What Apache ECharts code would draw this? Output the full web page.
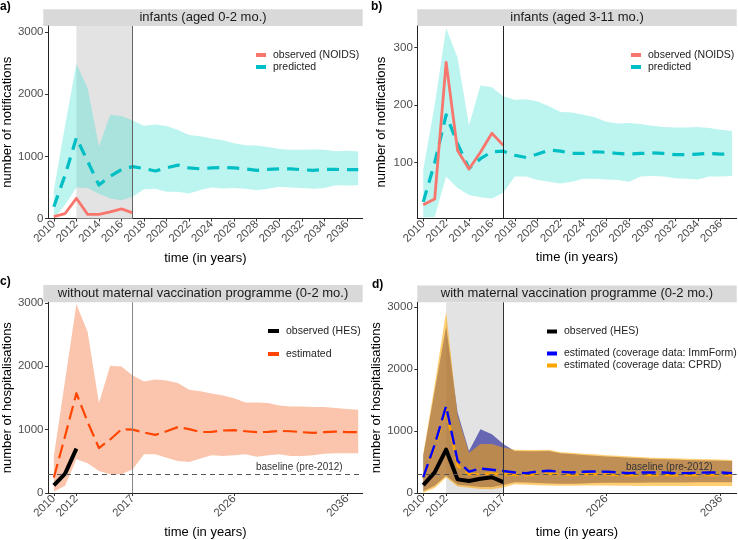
<!DOCTYPE html>
<html><head><meta charset="utf-8">
<script src="https://cdn.jsdelivr.net/npm/echarts@6/dist/echarts.min.js"></script>
<style>html,body{margin:0;padding:0;background:#fff}#c{width:738px;height:540px}</style>
</head><body><div id="c"></div>
<script>
// ---------- data ----------
const years = [2010,2011,2012,2013,2014,2015,2016,2017,2018,2019,2020,2021,2022,2023,2024,2025,2026,2027,2028,2029,2030,2031,2032,2033,2034,2035,2036,2037];
const obsYears = [2010,2011,2012,2013,2014,2015,2016,2017];
const hesYearsC = [2010,2011,2012];

const xTicksTop = [2010,2012,2014,2016,2018,2020,2022,2024,2026,2028,2030,2032,2034,2036];
const xTicksBottom = [2010,2012,2017,2026,2036];
const yTicksA = [0,1000,2000,3000];
const yTicksB = [100,200,300];
const yTicksC = [0,1000,2000,3000];
const yTicksD = [0,1000,2000,3000];

const shadeStart = 2012, shadeEnd = 2017, cutoffYear = 2017, baselineValue = 300;

// panel a: infants 0-2 months, notifications
const aPredicted = [190,700,1300,920,540,680,790,835,805,765,815,860,815,800,815,820,815,800,775,790,800,800,786,775,790,790,786,786];
const aUpper     = [455,1500,2490,2100,1160,1670,1650,1580,1495,1515,1490,1425,1345,1325,1290,1260,1210,1180,1176,1150,1120,1107,1107,1110,1107,1085,1090,1080];
const aLower     = [0,220,500,490,400,322,295,349,470,478,430,430,403,457,500,484,490,480,455,480,510,500,490,480,490,535,530,535];
const aObserved  = [30,80,325,66,66,107,155,91];

// panel b: infants 3-11 months, notifications
const bPredicted = [32,100,183,133,90,107,119,120,113,109,115,122,120,116,116,119,118,116,115,116,117,116,114,114,115,116,115,115];
const bUpper     = [88,200,333,282,165,234,231,215,209,210,206,198,188,187,183,179,171,168,169,167,164,162,161,161,162,160,157,155];
const bLower     = [5,6,76,56,44,40,38,48,76,76,70,67,64,67,72,72,71,70,67,76,77,76,73,72,71,76,76,77];
const bObserved  = [27,37,274,121,89,118,151,130];

// panel c: without maternal vaccination, hospitalisations
const cEstimated = [245,900,1575,1120,710,845,1005,1000,955,918,975,1040,1008,962,965,986,991,975,960,965,980,975,960,950,960,970,960,960];
const cUpper     = [584,1780,2980,2540,1420,2010,1998,1855,1758,1790,1774,1738,1628,1605,1570,1539,1497,1429,1429,1419,1382,1367,1367,1356,1356,1340,1325,1315];
const cLower     = [20,114,532,470,349,297,297,376,610,610,558,506,490,543,595,584,595,610,574,595,610,584,584,595,620,626,626,626];
const cObserved  = [120,305,700];

// panel d: with maternal vaccination, hospitalisations
const dImmForm      = [252,780,1403,520,345,395,375,355,332,321,348,359,343,332,343,348,343,332,321,332,332,332,321,321,327,332,332,321];
const dImmFormUpper = [600,1650,2690,1300,680,1028,950,790,680,675,675,680,640,630,615,600,590,580,570,560,550,545,540,535,530,525,520,515];
const dImmFormLower = [30,118,280,135,118,95,95,128,175,170,160,155,150,150,155,160,165,165,165,165,170,170,170,170,175,175,175,175];
const dCPRD         = [240,740,1350,440,300,310,310,305,295,285,305,315,300,290,300,305,300,290,285,290,290,290,285,285,290,290,290,285];
const dCPRDUpper    = [627,1750,2930,1250,650,790,790,735,700,695,695,700,660,650,635,625,610,600,590,580,570,565,560,555,550,545,540,535];
const dCPRDLower    = [5,80,250,105,85,65,60,90,140,135,125,120,118,118,120,120,120,118,118,115,115,115,115,115,115,115,115,115];
const dObserved     = [128,332,700,220,195,230,255,175];

// ---------- styles ----------
const FONT = 'Liberation Sans, Arial, Helvetica, sans-serif';
const RED = '#F8766D', TEAL = '#00BFC4';
const TEAL_BAND = 'rgba(64,224,208,0.35)';
const SALMON_BAND = 'rgba(245,110,50,0.4)';
const ORANGERED = '#FF4500';
const BLUE = '#0000FF', ORANGE = '#FFA500';
const BLUE_BAND = 'rgba(0,0,139,0.55)', ORANGE_BAND = 'rgba(255,165,0,0.55)';
const SHADE = '#e3e3e3';

const grids = [
  {left: 43.3, top: 26, width: 319.4, height: 192.5},
  {left: 417.3, top: 26, width: 319.4, height: 192.3},
  {left: 43.3, top: 302.3, width: 319.4, height: 191.7},
  {left: 417.3, top: 302.3, width: 319.4, height: 191.7}
];

function pairs(xs, ys) { return xs.map((x, i) => [x, ys[i]]); }
const plain = v => String(v);

function xAxis(gi, ticks) {
  return {
    type: 'value', gridIndex: gi, min: 2009.48, max: 2037.4,
    name: 'time (in years)', nameLocation: 'middle', nameGap: 33,
    nameTextStyle: {fontSize: 13, color: '#000', fontFamily: FONT},
    axisLine: {show: true, onZero: false, lineStyle: {color: '#222', width: 1}},
    axisTick: {show: true, length: 3, lineStyle: {color: '#333'}, customValues: ticks},
    axisLabel: {rotate: 45, margin: 4, fontSize: 11.5, color: '#4d4d4d', fontFamily: FONT, customValues: ticks, formatter: plain},
    splitLine: {show: false}
  };
}
function yAxis(gi, min, max, ticks, name, gap) {
  return {
    type: 'value', gridIndex: gi, min: min, max: max,
    name: name, nameLocation: 'middle', nameGap: gap,
    nameTextStyle: {fontSize: 13, color: '#000', fontFamily: FONT},
    axisLine: {show: true, onZero: false, lineStyle: {color: '#222', width: 1}},
    axisTick: {show: true, length: 3, lineStyle: {color: '#333'}, customValues: ticks},
    axisLabel: {margin: 4.5, fontSize: 11.5, color: '#4d4d4d', fontFamily: FONT, customValues: ticks, formatter: plain},
    splitLine: {show: false}
  };
}

function lineSeries(gi, name, xs, ys, color, width, dash, z) {
  return {
    type: 'line', name: name, xAxisIndex: gi, yAxisIndex: gi,
    data: pairs(xs, ys), symbol: 'none', showSymbol: false, silent: true, z: z,
    lineStyle: {color: color, width: width, type: dash || 'solid', cap: 'butt', join: 'round'},
    itemStyle: {color: color}
  };
}

function bandSeries(gi, name, lo, up, color, z) {
  return {
    type: 'custom', name: name, xAxisIndex: gi, yAxisIndex: gi, silent: true, z: z, clip: true,
    data: years.map((y, i) => [y, lo[i], up[i]]),
    encode: {x: 0, y: [1, 2]},
    renderItem: function (params, api) {
      if (params.dataIndex !== 0) return null;
      const pts = [];
      for (let i = 0; i < years.length; i++) pts.push(api.coord([years[i], up[i]]));
      for (let i = years.length - 1; i >= 0; i--) pts.push(api.coord([years[i], lo[i]]));
      return {type: 'polygon', shape: {points: pts}, style: {fill: color, stroke: null}};
    }
  };
}

function shadeSeries(gi) {
  return {
    type: 'line', name: 'shade' + gi, xAxisIndex: gi, yAxisIndex: gi, data: [], symbol: 'none', z: 0, silent: true,
    markArea: {silent: true, z: 1, itemStyle: {color: SHADE, opacity: 1},
      data: [[{xAxis: shadeStart}, {xAxis: shadeEnd}]]}
  };
}

function refSeries(gi, vColor, withBaseline, labelDist) {
  const data = [{xAxis: cutoffYear, lineStyle: {color: vColor, width: 1, type: 'solid'}, label: {show: false}}];
  if (withBaseline) {
    data.push({yAxis: baselineValue, lineStyle: {color: '#555', width: 1, type: [5, 4]},
      label: {show: true, formatter: 'baseline (pre-2012)', position: 'insideEndTop', distance: labelDist,
        fontSize: 10, color: '#333', fontFamily: FONT}});
  }
  return {
    type: 'line', name: 'ref' + gi, xAxisIndex: gi, yAxisIndex: gi, data: [], symbol: 'none', z: 10, silent: true,
    markLine: {silent: true, z: 10, symbol: ['none', 'none'], animation: false, data: data}
  };
}

function legendBox(left, top, items, w) {
  return {
    left: left, top: top, orient: 'vertical', itemWidth: w || 10, itemHeight: 4, itemGap: 0, padding: 0,
    selectedMode: false,
    textStyle: {fontSize: 10.5, color: '#222', fontFamily: FONT, lineHeight: 12, padding: [0, 0, 0, 2]},
    data: items.map(it => ({name: it[0], icon: 'rect', itemStyle: {color: it[1], borderWidth: 0}}))
  };
}

const series = [
  // a
  shadeSeries(0),
  bandSeries(0, 'band a', aLower, aUpper, TEAL_BAND, 2),
  lineSeries(0, 'predicted', years, aPredicted, TEAL, 3.2, [12, 8], 4),
  lineSeries(0, 'observed (NOIDS)', obsYears, aObserved, RED, 2.8, null, 5),
  refSeries(0, '#666', false),
  // b
  bandSeries(1, 'band b', bLower, bUpper, TEAL_BAND, 2),
  lineSeries(1, 'predicted', years, bPredicted, TEAL, 3.2, [12, 8], 4),
  lineSeries(1, 'observed (NOIDS)', obsYears, bObserved, RED, 2.8, null, 5),
  refSeries(1, '#222', false),
  // c
  bandSeries(2, 'band c', cLower, cUpper, SALMON_BAND, 2),
  lineSeries(2, 'estimated', years, cEstimated, ORANGERED, 2.2, [14, 6], 4),
  lineSeries(2, 'observed (HES)', hesYearsC, cObserved, '#000', 4, null, 5),
  refSeries(2, '#888', true, [20, 2]),
  // d
  shadeSeries(3),
  bandSeries(3, 'band d1', dImmFormLower, dImmFormUpper, BLUE_BAND, 2),
  bandSeries(3, 'band d2', dCPRDLower, dCPRDUpper, ORANGE_BAND, 3),
  lineSeries(3, 'estimated (coverage data: CPRD)', years, dCPRD, ORANGE, 2.4, [14, 6], 4),
  lineSeries(3, 'estimated (coverage data: ImmForm)', years, dImmForm, BLUE, 2.4, [14, 6], 4),
  lineSeries(3, 'observed (HES)', obsYears, dObserved, '#000', 4, null, 5),
  refSeries(3, '#333', true, [24, 2])
];

function strip(x, y, w, h, text) {
  return [
    {type: 'rect', shape: {x: x, y: y, width: w, height: h}, style: {fill: '#d9d9d9'}, silent: true, z: 0},
    {type: 'text', x: x + w / 2, y: y + h / 2, silent: true, z: 1,
      style: {text: text, fill: '#1a1a1a', fontSize: 13, fontFamily: FONT, textAlign: 'center', textVerticalAlign: 'middle'}}
  ];
}
function panelLabel(x, y, t) {
  return {type: 'text', x: x, y: y, silent: true, style: {text: t, fill: '#000', fontSize: 12, fontWeight: 'bold', fontFamily: FONT, textVerticalAlign: 'top'}};
}

const option = {
  animation: false,
  backgroundColor: '#fff',
  grid: grids,
  xAxis: [xAxis(0, xTicksTop), xAxis(1, xTicksTop), xAxis(2, xTicksBottom), xAxis(3, xTicksBottom)],
  yAxis: [
    yAxis(0, 0, 3100, yTicksA, 'number of notifications', 27),
    yAxis(1, 3.6, 337, yTicksB, 'number of notifications', 29),
    yAxis(2, 0, 3010, yTicksC, 'number of hospitalisations', 27),
    yAxis(3, 0, 3080, yTicksD, 'number of hospitalisations', 29)
  ],
  legend: [
    legendBox(256, 49, [['observed (NOIDS)', RED], ['predicted', TEAL]]),
    legendBox(631, 49, [['observed (NOIDS)', RED], ['predicted', TEAL]]),
    legendBox(268, 325, [['observed (HES)', '#000']], 11),
    legendBox(268, 348, [['estimated', ORANGERED]], 11),
    legendBox(547, 325.5, [['observed (HES)', '#000']]),
    legendBox(547, 347.5, [['estimated (coverage data: ImmForm)', BLUE], ['estimated (coverage data: CPRD)', ORANGE]])
  ],
  graphic: [].concat(
    strip(43.3, 9.3, 319.4, 16.7, 'infants (aged 0-2 mo.)'),
    strip(417.3, 9.3, 319.4, 16.7, 'infants (aged 3-11 mo.)'),
    strip(43.3, 285, 319.4, 17.3, 'without maternal vaccination programme (0-2 mo.)'),
    strip(417.3, 285.5, 319.4, 16.8, 'with maternal vaccination programme (0-2 mo.)'),
    [panelLabel(0, 1, 'a)'), panelLabel(371, 1, 'b)'), panelLabel(0, 276, 'c)'), panelLabel(372, 279, 'd)')]
  ),
  series: series
};

const chart = echarts.init(document.getElementById('c'), null, {renderer: 'canvas'});
chart.setOption(option);
</script>
</body></html>
